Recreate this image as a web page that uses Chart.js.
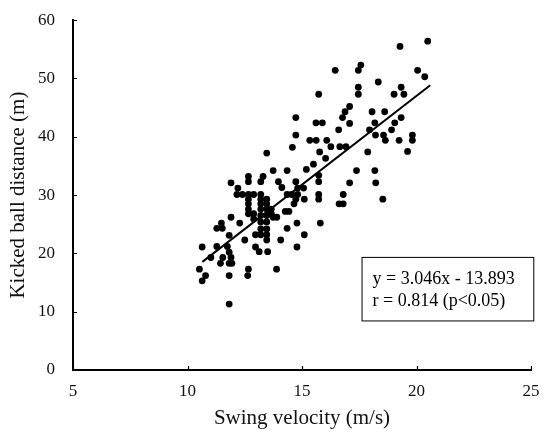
<!DOCTYPE html>
<html>
<head>
<meta charset="utf-8">
<script src="https://cdn.jsdelivr.net/npm/chart.js@4"></script>
<style>
    html, body { margin: 0; padding: 0; background: #fff; }
    #chart { display: block; }
</style>
</head>
<body>
<canvas id="chart" width="553" height="435"></canvas>
<script>
// Swing velocity (m/s) vs kicked ball distance (m)
const swingVelocity = [
    20.49, 19.28, 20.05, 20.36, 16.45, 17.57, 17.46, 18.33, 17.46, 17.46,
    19.33, 19.02, 19.45, 15.73, 18.06, 18.61, 17.08, 16.88, 16.77, 17.08,
    19.33, 19.05, 18.18, 14.73, 15.61, 15.89, 16.60, 17.95, 18.91, 18.21,
    18.56, 19.82, 19.82, 18.64, 19.24, 14.73, 15.34, 15.62, 16.08, 16.26,
    16.65, 16.92, 14.58, 17.87, 19.61, 15.77, 13.46, 16.03, 15.50, 15.19,
    13.74, 14.35, 17.38, 18.18, 15.73, 15.73, 14.73, 17.08, 18.22, 13.97,
    11.90, 13.30, 12.66, 12.66, 13.20, 12.20, 14.12, 15.07, 14.81, 14.55,
    14.81, 12.16, 12.40, 14.35, 15.73, 16.80, 15.10, 15.73, 18.53, 14.73,
    14.65, 16.80, 16.62, 14.27, 14.43, 13.74, 11.90, 13.90, 12.28, 11.48,
    14.78, 15.80, 11.28, 11.52, 11.82, 14.35, 15.10, 12.50, 14.07, 13.46,
    11.28, 10.64, 11.74, 12.97, 14.78, 13.13, 13.50, 11.82, 11.02, 11.54,
    11.90, 11.82, 11.44, 11.94, 10.52, 13.89, 12.66, 10.79, 11.82, 12.63,
    10.64, 11.82,
    12.66, 12.66, 12.66, 12.66, 12.66, 12.89, 12.89, 12.89,
    13.20, 13.20, 13.20, 13.20, 13.20, 13.20, 13.20, 13.20,
    13.46, 13.46, 13.46, 13.46, 13.46, 13.46, 13.46, 13.66, 13.66, 12.97
];
const kickDistance = [
    56.4, 55.5, 51.4, 50.3, 51.4, 52.3, 51.4, 49.4, 48.5, 47.3,
    48.5, 47.3, 47.3, 47.3, 44.3, 44.3, 45.2, 44.3, 43.3, 42.3,
    43.3, 42.4, 42.4, 43.3, 42.4, 42.4, 41.2, 41.2, 41.2, 40.3,
    40.3, 40.3, 39.4, 39.4, 39.4, 40.3, 39.4, 39.4, 39.4, 38.3,
    38.3, 38.3, 38.2, 37.4, 37.5, 37.4, 37.2, 36.3, 35.3, 34.4,
    34.2, 34.2, 34.2, 34.2, 33.4, 32.3, 32.3, 32.1, 32.1, 32.3,
    32.1, 33.2, 33.2, 32.3, 32.3, 31.2, 31.3, 31.2, 31.2, 30.1,
    30.1, 30.1, 30.1, 30.1, 30.1, 30.1, 29.3, 29.3, 29.3, 29.3,
    28.5, 28.5, 28.5, 27.2, 27.2, 26.2, 26.2, 26.2, 25.2, 25.2,
    25.2, 25.2, 24.3, 24.3, 23.1, 24.3, 23.2, 22.3, 22.3, 22.3,
    21.2, 21.1, 21.2, 21.1, 21.1, 20.3, 20.3, 20.2, 19.3, 19.3,
    19.3, 18.3, 18.3, 18.3, 17.3, 17.3, 17.3, 16.2, 16.2, 16.2,
    15.3, 11.3,
    30.1, 29.3, 28.5, 27.6, 26.8, 30.1, 26.8, 25.9,
    30.1, 29.3, 28.5, 27.6, 26.5, 25.4, 24.2, 23.2,
    29.3, 28.5, 27.6, 26.5, 25.4, 24.2, 23.2, 27.6, 26.8, 23.2
];

// regression from the figure: y = 3.046x - 13.893
const slope = 3.046;
const intercept = -13.893;
const fitRange = [10.65, 20.6];

const xTicks = [5, 10, 15, 20, 25];
const yTicks = [0, 10, 20, 30, 40, 50, 60];
const equationLines = ['y = 3.046x - 13.893', 'r = 0.814 (p<0.05)'];

const serif = '"Liberation Serif", "DejaVu Serif", serif';

const points = swingVelocity.map((x, i) => ({ x: x, y: kickDistance[i] }));
const fitLine = fitRange.map(x => ({ x: x, y: slope * x + intercept }));

// short tick marks pointing into the plot, like the original figure
const innerTicks = {
    id: 'innerTicks',
    afterDraw(chart) {
        const ctx = chart.ctx;
        const xs = chart.scales.x;
        const ys = chart.scales.y;
        ctx.save();
        ctx.strokeStyle = '#000';
        ctx.lineWidth = 1.2;
        ctx.beginPath();
        xTicks.forEach(v => {
            const px = Math.round(xs.getPixelForValue(v)) + 0.5;
            ctx.moveTo(px, ys.bottom);
            ctx.lineTo(px, ys.bottom - 4);
        });
        yTicks.forEach(v => {
            const py = Math.round(ys.getPixelForValue(v)) + 0.5;
            ctx.moveTo(xs.left, py);
            ctx.lineTo(xs.left + 4, py);
        });
        ctx.stroke();
        ctx.restore();
    }
};

// draws the boxed regression equation in the lower right
const equationBox = {
    id: 'equationBox',
    afterDraw(chart) {
        const ctx = chart.ctx;
        const xs = chart.scales.x;
        const ys = chart.scales.y;
        const left = xs.getPixelForValue(17.6);
        const right = xs.getPixelForValue(25.1);
        const top = ys.getPixelForValue(19.4);
        const bottom = ys.getPixelForValue(8.5);
        ctx.save();
        ctx.strokeStyle = '#000';
        ctx.lineWidth = 1;
        ctx.strokeRect(left + 0.5, top + 0.5, right - left, bottom - top);
        ctx.fillStyle = '#000';
        ctx.font = '18px ' + serif;
        ctx.textBaseline = 'middle';
        ctx.fillText(equationLines[0], left + 11, top + 22);
        ctx.fillText(equationLines[1], left + 11, top + 44);
        ctx.restore();
    }
};

new Chart(document.getElementById('chart'), {
    type: 'scatter',
    data: {
        datasets: [{
            data: points,
            pointRadius: 3.4,
            pointHoverRadius: 3.4,
            backgroundColor: '#000',
            borderColor: '#000',
            borderWidth: 0
        }, {
            type: 'line',
            data: fitLine,
            borderColor: '#000',
            borderWidth: 2,
            pointRadius: 0,
            fill: false
        }]
    },
    options: {
        responsive: false,
        animation: false,
        layout: { padding: { top: 10, right: 22, left: 0, bottom: 0 } },
        plugins: { legend: { display: false }, tooltip: { enabled: false } },
        scales: {
            x: {
                type: 'linear',
                min: 5,
                max: 25,
                afterBuildTicks: axis => { axis.ticks = xTicks.map(v => ({ value: v })); },
                afterFit: axis => { axis.height = 65; },
                border: { color: '#000', width: 2 },
                grid: { display: false },
                ticks: { color: '#111', font: { family: serif, size: 17 }, padding: 3 },
                title: {
                    display: true,
                    text: 'Swing velocity (m/s)',
                    color: '#111',
                    font: { family: serif, size: 21 },
                    padding: { top: 6 }
                }
            },
            y: {
                min: 0,
                max: 60,
                afterBuildTicks: axis => { axis.ticks = yTicks.map(v => ({ value: v })); },
                afterFit: axis => { axis.width = 73; },
                border: { color: '#000', width: 2 },
                grid: { display: false },
                ticks: { color: '#111', font: { family: serif, size: 17 }, padding: 10 },
                title: {
                    display: true,
                    text: 'Kicked ball distance (m)',
                    color: '#111',
                    font: { family: serif, size: 21 },
                    padding: { top: 6, bottom: 0 }
                }
            }
        }
    },
    plugins: [innerTicks, equationBox]
});
</script>
</body>
</html>
